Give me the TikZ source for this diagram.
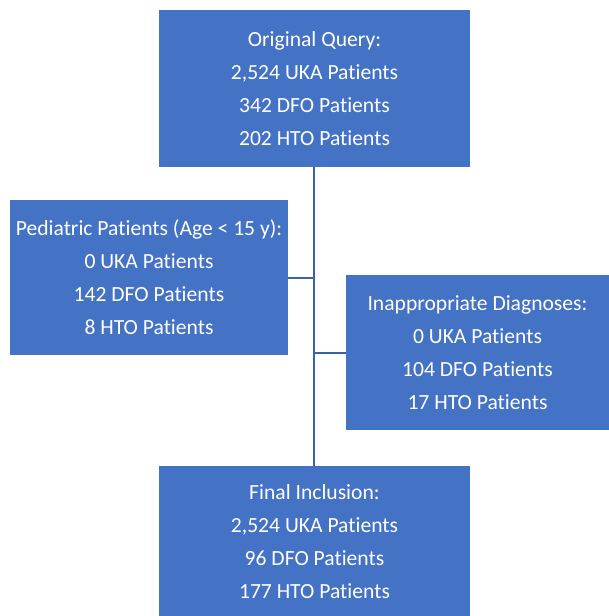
\documentclass[tikz,border=0pt]{standalone}
\usepackage{fontspec}
\setmainfont[Ligatures=NoCommon]{Carlito}
\definecolor{boxblue}{HTML}{4472C4}
\definecolor{lineblue}{HTML}{3A62AA}
\begin{document}
\begin{tikzpicture}[x=1pt,y=-1pt,
  flowbox/.style={fill=boxblue,draw=none,text=white,align=center,inner sep=0pt,
    font=\fontsize{21.6}{33}\selectfont},
  link/.style={draw=lineblue,line width=2pt}]
\useasboundingbox (0,0) rectangle (609,616);
\node[flowbox,minimum width=311,minimum height=157] (top) at (314.5,88.5)
  {Original Query:\\2,524 UKA Patients\\342 DFO Patients\\202 HTO Patients};
\node[flowbox,minimum width=278,minimum height=155] (ped) at (149,277.5)
  {Pediatric Patients (Age < 15 y):\\0 UKA Patients\\142 DFO Patients\\8 HTO Patients};
\node[flowbox,minimum width=263,minimum height=155] (diag) at (477.5,352.5)
  {Inappropriate Diagnoses:\\0 UKA Patients\\104 DFO Patients\\17 HTO Patients};
\node[flowbox,minimum width=311,minimum height=152] (fin) at (314.5,542)
  {Final Inclusion:\\2,524 UKA Patients\\96 DFO Patients\\177 HTO Patients};
\coordinate (j1) at (314,278);
\coordinate (j2) at (314,353);
\draw[link] (top.south -| j1) -- (fin.north -| j1);
\draw[link] (ped.east |- j1) -- (j1);
\draw[link] (j2) -- (diag.west |- j2);
\end{tikzpicture}
\end{document}
